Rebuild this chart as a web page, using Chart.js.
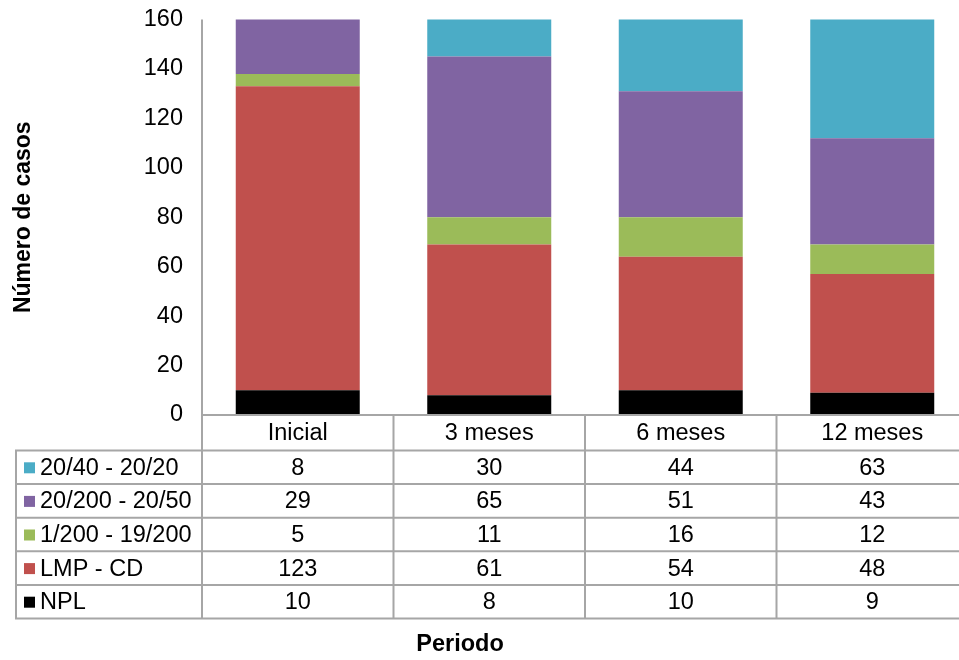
<!DOCTYPE html>
<html>
<head>
<meta charset="utf-8">
<script src="https://cdn.jsdelivr.net/npm/chart.js@4"></script>
<style>
html,body{margin:0;padding:0;background:#fff;overflow:hidden;}
#wrap{position:relative;width:968px;height:660px;}
</style>
</head>
<body>
<div id="wrap"><canvas id="c"></canvas></div>
<script>
const categories = ['Inicial', '3 meses', '6 meses', '12 meses'];
const seriesNames = ['NPL', 'LMP - CD', '1/200 - 19/200', '20/200 - 20/50', '20/40 - 20/20'];
const npl = [10, 8, 10, 9];
const lmpCd = [123, 61, 54, 48];
const av1_200 = [5, 11, 16, 12];
const av20_200 = [29, 65, 51, 43];
const av20_40 = [8, 30, 44, 63];
const yTicks = [0, 20, 40, 60, 80, 100, 120, 140, 160];
const xTitle = 'Periodo';
const yTitle = 'Número de casos';

const colors = ['#000000', '#C0504D', '#9BBB59', '#8064A2', '#4BACC6'];
const seriesValues = [npl, lmpCd, av1_200, av20_200, av20_40];
const FONT = "'Liberation Sans', Arial, sans-serif";
const LINE = '#a6a6a6';

const tablePlugin = {
  id: 'dataTable',
  afterDraw(chart) {
    const ctx = chart.ctx;
    const a = chart.chartArea;
    const xs = chart.scales.x;
    const n = categories.length;
    const cw = (a.right - a.left) / n;
    const headerTop = a.bottom;
    const headerBot = a.bottom + 35.5;
    const rowH = 33.6;
    const nRows = chart.data.datasets.length;
    const tableBot = headerBot + rowH * nRows;
    const tableLeft = 16;
    ctx.save();
    ctx.strokeStyle = LINE;
    ctx.lineWidth = 2;
    ctx.beginPath();
    ctx.moveTo(a.left, a.top); ctx.lineTo(a.left, tableBot + 1);
    ctx.moveTo(a.left, headerTop); ctx.lineTo(a.right + 2, headerTop);
    for (let i = 1; i <= n; i++) {
      const cx = a.left + cw * i;
      ctx.moveTo(cx, headerTop); ctx.lineTo(cx, tableBot + 1);
    }
    ctx.moveTo(tableLeft, headerBot - 1); ctx.lineTo(tableLeft, tableBot + 1);
    for (let r = 0; r <= nRows; r++) {
      const y = headerBot + rowH * r;
      ctx.moveTo(tableLeft - 1, y); ctx.lineTo(a.right + 2, y);
    }
    ctx.stroke();

    ctx.fillStyle = '#000';
    ctx.font = '23.5px ' + FONT;
    ctx.textAlign = 'center';
    ctx.textBaseline = 'middle';
    categories.forEach((c, i) => {
      ctx.fillText(c, xs.getPixelForValue(i), (headerTop + headerBot) / 2 + 1);
    });
    const dsRev = chart.data.datasets.slice().reverse();
    dsRev.forEach((ds, r) => {
      const yc = headerBot + rowH * r + rowH / 2 + 1;
      ctx.fillStyle = ds.backgroundColor;
      ctx.fillRect(24, yc - 6, 11, 11);
      ctx.fillStyle = '#000';
      ctx.textAlign = 'left';
      ctx.fillText(ds.label, 40, yc);
      ctx.textAlign = 'center';
      ds.data.forEach((v, i) => {
        ctx.fillText(String(v), xs.getPixelForValue(i), yc);
      });
    });
    ctx.font = 'bold 23.5px ' + FONT;
    ctx.textAlign = 'center';
    ctx.fillText(xTitle, 460, 645);
    ctx.restore();
  }
};

new Chart(document.getElementById('c'), {
  type: 'bar',
  data: {
    labels: categories,
    datasets: seriesNames.map((name, i) => ({
      label: name,
      data: seriesValues[i],
      backgroundColor: colors[i],
      borderWidth: 0,
      barPercentage: 0.6475,
      categoryPercentage: 1
    }))
  },
  options: {
    responsive: true,
    maintainAspectRatio: false,
    animation: false,
    layout: { padding: { top: 19.5, bottom: 245, left: 0, right: 0 } },
    plugins: { legend: { display: false }, tooltip: { enabled: false } },
    scales: {
      x: { stacked: true, display: false },
      y: {
        stacked: true,
        min: 0, max: 160,
        afterFit(s) { s.width = 202; s.paddingTop = 0; s.paddingBottom = 0; },
        afterBuildTicks(s) { s.ticks = yTicks.map(v => ({ value: v })); },
        grid: { display: false, drawTicks: false },
        border: { display: false },
        ticks: { padding: 19, color: '#000', font: { family: FONT, size: 23.5 } },
        title: {
          display: true,
          text: yTitle,
          color: '#000',
          padding: { top: 10, bottom: 0 },
          font: { family: FONT, size: 23, weight: 'bold', lineHeight: 1.2 }
        }
      }
    }
  },
  plugins: [tablePlugin]
});
</script>
</body>
</html>
